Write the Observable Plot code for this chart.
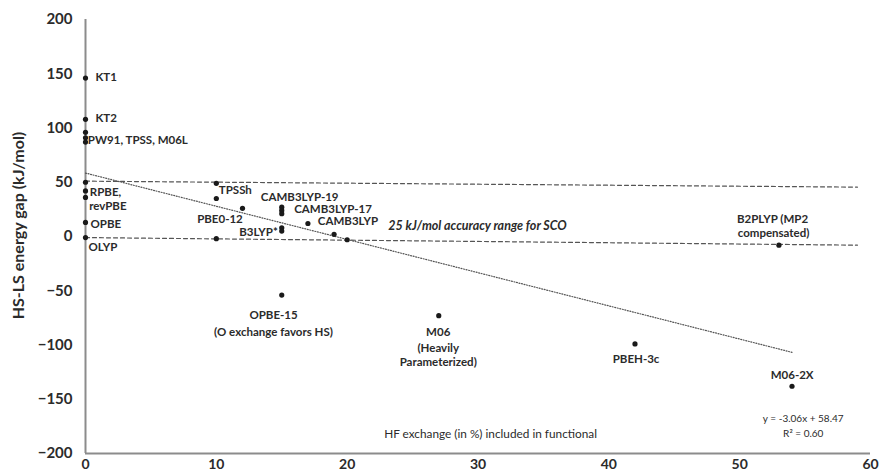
<!DOCTYPE html>
<html><head><meta charset="utf-8">
<script src="https://cdn.jsdelivr.net/npm/d3@7"></script>
<script src="https://cdn.jsdelivr.net/npm/@observablehq/plot@0.6"></script>
<style>body{margin:0;background:#fff}</style>
</head><body><div id="chart"></div>
<script>
// Data points: HF exchange (%) vs HS-LS energy gap (kJ/mol)
const hfExchange = [0, 0, 0, 0, 0, 0, 0, 0, 0, 0, 10, 10, 10, 12, 15, 15, 15, 15, 15, 15, 17, 19, 20, 27, 42, 53, 54];
const energyGap  = [146, 108, 96, 91, 87, 50, 42, 36, 13, -1, 49, 35, -2, 26, 27, 24, 21, 8, 5, -54, 12, 2, -3, -73, -99, -8, -138];

// Accuracy band (dashed) and linear trend (dotted)
const upperBandX = [0, 59], upperBandY = [51, 45.5];
const lowerBandX = [0, 59], lowerBandY = [-1, -8];
const trendX = [0, 54], trendY = [58.47, -106.77];

// Tick values
const xTicks = [0, 10, 20, 30, 40, 50, 60];
const yTicks = [-200, -150, -100, -50, 0, 50, 100, 150, 200];

// Point labels (text, anchor position in data units, alignment)
const labelText   = ["KT1", "KT2", "PW91, TPSS, M06L", "RPBE,", "revPBE", "OPBE", "OLYP", "TPSSh", "PBE0-12", "B3LYP*", "CAMB3LYP-19", "CAMB3LYP-17", "CAMB3LYP", "OPBE-15", "(O exchange favors HS)", "M06", "(Heavily", "Parameterized)", "PBEH-3c", "M06-2X", "B2PLYP (MP2", "compensated)"];
const labelX      = [0.76, 0.76, 0.18, 0.33, 0.28, 0.38, 0.23, 10.19, 12.02, 14.7, 16.37, 18.92, 20.06, 14.37, 14.37, 26.96, 26.96, 26.96, 42.08, 54.01, 52.51, 52.59];
const labelY      = [146.5, 108.6, 88.6, 40.9, 27.7, 10.8, -9.9, 42.5, 16.3, 4, 35.7, 24.9, 14.1, -72.9, -88.3, -88.3, -102.7, -116, -113.5, -128.3, 16.3, 2.5];
const labelAnchor = ["start", "start", "start", "start", "start", "start", "start", "start", "end", "end", "middle", "middle", "middle", "middle", "middle", "middle", "middle", "middle", "middle", "middle", "middle", "middle"];

const bandNote = "25 kJ/mol accuracy range for SCO";
const bandNoteX = 29.96, bandNoteY = 9.5;
const eqText = ["y = -3.06x + 58.47", "R² = 0.60"];
const eqX = [54.86, 54.86], eqY = [-168.3, -181.5];
const xTitle = "HF exchange (in %) included in functional";
const xTitleX = 30.96, xTitleY = -181.8;
const yTitle = "HS-LS energy gap (kJ/mol)";

const points = hfExchange.map((x, i) => ({x, y: energyGap[i]}));
const upper = upperBandX.map((x, i) => ({x, y: upperBandY[i]}));
const lower = lowerBandX.map((x, i) => ({x, y: lowerBandY[i]}));
const trend = trendX.map((x, i) => ({x, y: trendY[i]}));
const labels = labelText.map((t, i) => ({t, x: labelX[i], y: labelY[i], a: labelAnchor[i]}));
const eqs = eqText.map((t, i) => ({t, x: eqX[i], y: eqY[i]}));

const FONT = "Lato, 'Open Sans', sans-serif";
const INK = "#2b2b2b";
const AXIS = "#8c8c8c";

const labelMarks = ["start", "middle", "end"].map(a =>
  Plot.text(labels.filter(d => d.a === a), {x: "x", y: "y", text: "t", textAnchor: a,
    fontFamily: FONT, fontSize: 11.5, fontWeight: "bold", fill: INK}));

const chart = Plot.plot({
  width: 880,
  height: 473,
  marginLeft: 85,
  marginRight: 10,
  marginTop: 19,
  marginBottom: 20,
  style: {fontFamily: FONT, background: "#fff"},
  x: {domain: [0, 60]},
  y: {domain: [-200, 200]},
  marks: [
    Plot.axisX({ticks: xTicks, tickSize: 0, tickPadding: 6, label: null, fontFamily: FONT, fontSize: 14, fontWeight: "bold", fill: INK}),
    Plot.axisY({ticks: yTicks, tickSize: 0, tickPadding: 13, label: null, fontFamily: FONT, fontSize: 15, fontWeight: "bold", fill: INK}),
    Plot.ruleX([0], {stroke: AXIS, strokeWidth: 2}),
    Plot.ruleY([-200], {stroke: AXIS, strokeWidth: 2}),
    Plot.line(upper, {x: "x", y: "y", stroke: "#555", strokeWidth: 1.2, strokeDasharray: "4,3"}),
    Plot.line(lower, {x: "x", y: "y", stroke: "#555", strokeWidth: 1.2, strokeDasharray: "4,3"}),
    Plot.line(trend, {x: "x", y: "y", stroke: "#555", strokeWidth: 1.2, strokeDasharray: "1,1.6"}),
    Plot.dot(points, {x: "x", y: "y", r: 2.6, fill: "#1a1a1a", stroke: "none"}),
    ...labelMarks,
    Plot.text([bandNote], {x: bandNoteX, y: bandNoteY, text: d => d, fontFamily: FONT, fontSize: 12.5, fontWeight: "bold", fontStyle: "italic", fill: INK}),
    Plot.text(eqs, {x: "x", y: "y", text: "t", fontFamily: FONT, fontSize: 10, fill: INK}),
    Plot.text([xTitle], {x: xTitleX, y: xTitleY, text: d => d, fontFamily: FONT, fontSize: 11.8, fill: INK}),
    Plot.text([yTitle], {frameAnchor: "left", text: d => d, textAnchor: "middle", rotate: -90, dx: -67, dy: -11, fontFamily: FONT, fontSize: 16, fontWeight: "bold", fill: INK})
  ]
});
document.getElementById("chart").appendChild(chart);
</script>
</body></html>
